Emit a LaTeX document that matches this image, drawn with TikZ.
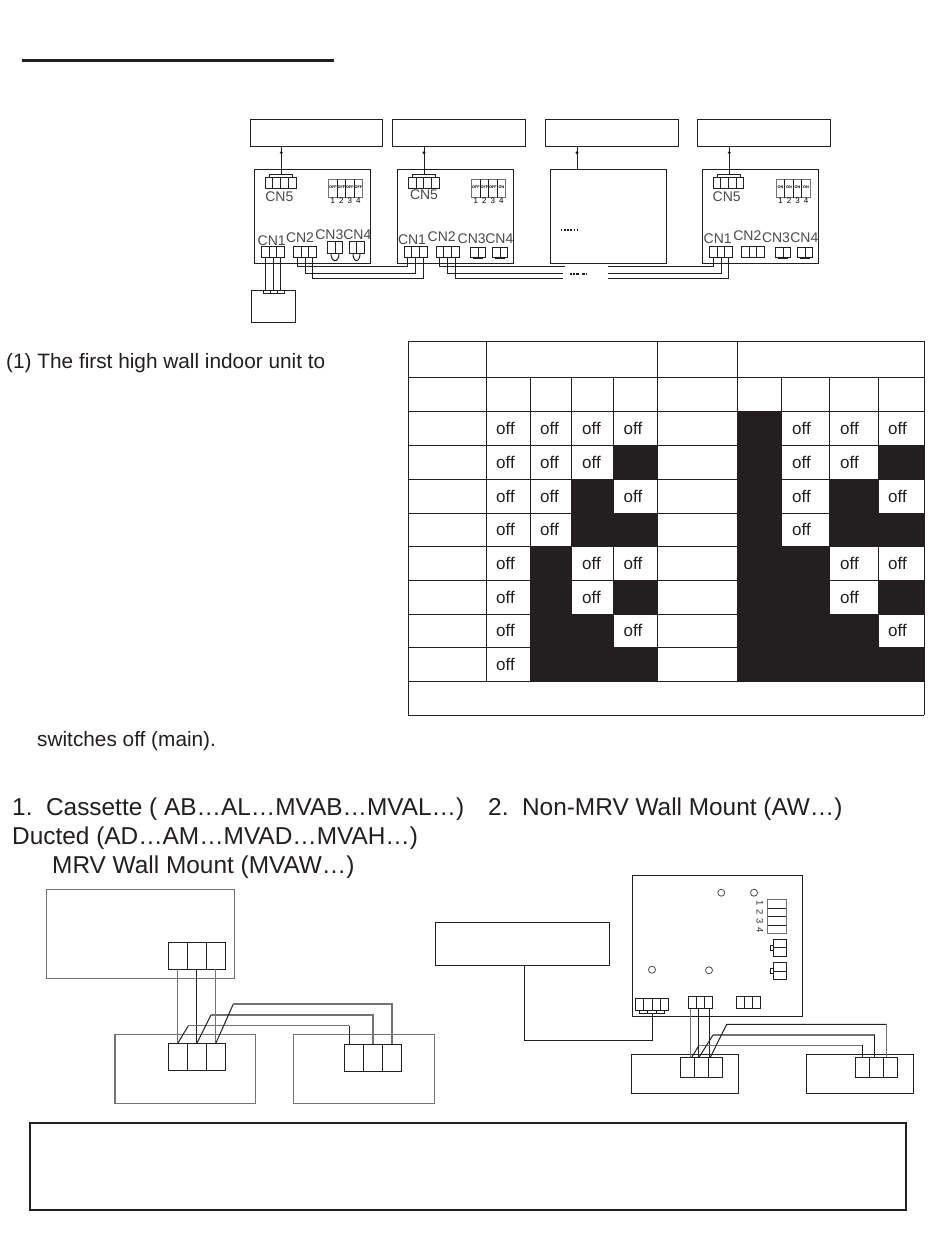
\documentclass[tikz,border=0pt]{standalone}
\usepackage{fontspec}
\setmainfont{Liberation Sans}
\definecolor{ink}{HTML}{231F20}
\tikzset{
  ln/.style={draw=ink,line width=1pt},
  gl/.style={draw=black!55,line width=1.3pt},
  wire/.style={ln},
  box/.style={ln,fill=white,inner sep=0pt,outer sep=0pt,anchor=north west},
  graybox/.style={gl,fill=white,inner sep=0pt,outer sep=0pt,anchor=north west},
  cnlabel/.style={inner sep=0pt,text=black!70,font=\fontsize{14}{14}\selectfont},
  swtext/.style={inner sep=0pt,font=\fontsize{3.8}{3.8}\selectfont\bfseries},
  swnum/.style={inner sep=0pt,font=\fontsize{8}{8}\selectfont},
  para/.style={inner sep=0pt,anchor=base west,text=ink,font=\fontsize{20.8}{20.8}\selectfont},
  head/.style={inner sep=0pt,anchor=base west,text=ink,font=\fontsize{24.4}{24.4}\selectfont},
  offcell/.style={inner sep=0pt,text=ink,font=\fontsize{17}{17}\selectfont},
}
% \bx[style]{name}{x1}{y1}{x2}{y2}
\newcommand{\bx}[6][box]{\node[#1,minimum width={(#5-#3)*1pt},minimum height={(#6-#4)*1pt}] (#2) at (#3,#4) {};}
% \conn[style]{name}{x1}{y1}{x2}{y2}{n}: divided connector, pins name-i-n and name-i-s
\newcommand{\conn}[7][box]{%
  \bx[#1]{#2}{#3}{#4}{#5}{#6}%
  \foreach \i in {1,...,#7}{%
    \pgfmathsetmacro{\xc}{#3+(#5-#3)*(\i-0.5)/#7}%
    \pgfmathsetmacro{\xd}{#3+(#5-#3)*\i/#7}%
    \coordinate (#2-\i-n) at (\xc,#4);%
    \coordinate (#2-\i-s) at (\xc,#6);%
    \ifnum\i<#7 \draw[ln] (\xd,#4) -- (\xd,#6);\fi
  }%
}
% DIP switch block at x, four tiny labels
\newcommand{\dip}[6]{%
  \conn[graybox]{#1}{#2}{179.3}{#2+34}{197.7}{4}%
  \node[swtext] (#1a) at (#1-1-n |- 0,187) {#3};
  \node[swtext] (#1b) at (#1-2-n |- 0,187) {#4};
  \node[swtext] (#1c) at (#1-3-n |- 0,187) {#5};
  \node[swtext] (#1d) at (#1-4-n |- 0,187) {#6};
  \node[swnum] (#1e) at (#1-1-n |- 0,200.7) {1};
  \node[swnum] (#1f) at (#1-2-n |- 0,200.7) {2};
  \node[swnum] (#1g) at (#1-3-n |- 0,200.7) {3};
  \node[swnum] (#1h) at (#1-4-n |- 0,200.7) {4};
}
% table cell: x1 y1 x2 y2 black? row xoffset
\newcommand{\tcell}[7]{%
  \ifnum#5=1 \fill[ink] (#1,#2) rectangle (#3,#4);%
  \else \pgfmathsetmacro{\xm}{(#1+#3)/2+#7}\pgfmathsetmacro{\ym}{(#2+#4)/2}%
    \node[offcell] (off#6-#1) at (\xm,\ym) {off};\fi}
\begin{document}
\begin{tikzpicture}[x=1pt,y=-1pt]
\useasboundingbox (0,0) rectangle (950,1246);
\fill[white] (0,0) rectangle (950,1246);
% title rule
\coordinate (ra) at (22,61); \coordinate (rb) at (334,61);
\draw[ink,line width=3pt] (ra) -- (rb);
% ---------- upper wiring
\bx{b1}{250}{119.3}{382.7}{146.7}
\bx{b2}{392.7}{119.3}{525.3}{146.7}
\bx{b3}{545.7}{119.3}{678.3}{146.7}
\bx{b4}{697.3}{119.3}{830.3}{146.7}
\bx{p1}{254.3}{169.3}{370.3}{263.7}
\bx{p2}{397.3}{169.3}{513.3}{263.7}
\bx{p3}{550.7}{169.3}{666.3}{263.7}
\bx{p4}{702.3}{169.3}{818.3}{263.7}
% CN5
\conn{p1f}{265}{177.3}{296}{188.7}{4}
\conn{p2f}{408.3}{177.3}{439.3}{188.7}{4}
\conn{p4f}{713}{177.3}{743.7}{188.7}{4}
\bx{p1s}{269}{175}{292.3}{177.3}
\bx{p2s}{412.3}{175}{435.6}{177.3}
\bx{p4s}{717}{175}{740.3}{177.3}
\node[cnlabel] (l1f) at (279.3,197) {CN5};
\node[cnlabel] (l2f) at (424,195) {CN5};
\node[cnlabel] (l4f) at (726.7,197) {CN5};
% box-to-board wires with small tick
\coordinate (t1) at (281.3,175); \coordinate (t1b) at (281.3,146.7);
\coordinate (t2) at (424,175); \coordinate (t2b) at (424,146.7);
\coordinate (t3) at (577,169.3); \coordinate (t3b) at (577,146.7);
\coordinate (t4) at (729.3,175); \coordinate (t4b) at (729.3,146.7);
\foreach \t in {t1,t2,t3,t4}{
  \draw[ln] (\t b) -- (\t);
  \fill[ink] ([yshift=-6pt]\t b) circle (1.6pt);
}
% DIP
\dip{d1}{328.7}{OFF}{OFF}{OFF}{OFF}
\dip{d2}{471.7}{OFF}{OFF}{OFF}{ON}
\dip{d4}{776.3}{ON}{ON}{ON}{ON}
% CN1 / CN2
\conn{a1}{261.3}{246.7}{284.7}{257.7}{3}
\conn{a2}{293.3}{246.7}{316.7}{257.7}{3}
\conn{c1}{404}{246.7}{427.3}{257.7}{3}
\conn{c2}{436}{246.7}{459.3}{257.7}{3}
\conn{e1}{709.3}{246.7}{732.7}{257.7}{3}
\conn{e2}{741.3}{246.7}{764.7}{257.7}{3}
% CN3 / CN4 with loop
\conn{a3}{327.3}{242}{342.7}{253.7}{2}
\conn{a4}{349}{242}{364.3}{253.7}{2}
\draw[ln] (331,253.7) arc[start angle=180,end angle=0,x radius=4,y radius=7];
\draw[ln] (353,253.7) arc[start angle=180,end angle=0,x radius=3.5,y radius=7];
\conn{c3}{470.3}{247.3}{485.7}{257.3}{2}
\conn{c4}{492.3}{247.3}{507.7}{257.3}{2}
\conn{e3}{775.3}{247.3}{790.7}{257.3}{2}
\conn{e4}{797.3}{247.3}{812.7}{257.3}{2}
\foreach \n in {c3,c4,e3,e4}{\draw[ink,line width=1.3pt] ([xshift=3pt,yshift=-1pt]\n.south west) -- ([xshift=-3pt,yshift=-1pt]\n.south east);}
\node[cnlabel] (l1a) at (271.7,240.7) {CN1};
\node[cnlabel] (l1b) at (300,238) {CN2};
\node[cnlabel] (l1c) at (329.3,234.3) {CN3};
\node[cnlabel] (l1d) at (357.3,234.3) {CN4};
\node[cnlabel] (l2a) at (412,240) {CN1};
\node[cnlabel] (l2b) at (441.7,236.7) {CN2};
\node[cnlabel] (l2c) at (471.7,238.3) {CN3};
\node[cnlabel] (l2d) at (499.3,238.3) {CN4};
\node[cnlabel] (l4a) at (717.7,238.3) {CN1};
\node[cnlabel] (l4b) at (747.3,236) {CN2};
\node[cnlabel] (l4c) at (776,238) {CN3};
\node[cnlabel] (l4d) at (804.3,237.3) {CN4};
% remote box
\bx{g}{251.7}{290.7}{295}{322.3}
\conn{gs}{263.3}{291}{284.3}{294}{3}
\draw[wire] (a1-1-s) -- (a1-1-s |- gs.north);
\draw[wire] (a1-2-s) -- (a1-2-s |- gs.north);
\draw[wire] (a1-3-s) -- (a1-3-s |- gs.north);
% bus
\coordinate (r1) at (0,267); \coordinate (r2) at (0,273.3); \coordinate (r3) at (0,278.3);
\draw[wire] (a2-1-s) -- (a2-1-s |- r1) -- (c1-1-s |- r1) -- (c1-1-s);
\draw[wire] (a2-2-s) -- (a2-2-s |- r2) -- (c1-2-s |- r2) -- (c1-2-s);
\draw[wire] (a2-3-s) -- (a2-3-s |- r3) -- (c1-3-s |- r3) -- (c1-3-s);
\coordinate (g1) at (565,0); \coordinate (g2) at (563,0);
\coordinate (h1) at (608.3,0);
\draw[wire] (c2-1-s) -- (c2-1-s |- r1) -- (g1 |- r1);
\draw[wire] (c2-2-s) -- (c2-2-s |- r2) -- (g2 |- r2);
\draw[wire] (c2-3-s) -- (c2-3-s |- r3) -- (g2 |- r3);
\draw[wire] (h1 |- r1) -- (e1-1-s |- r1) -- (e1-1-s);
\draw[wire] (h1 |- r2) -- (e1-2-s |- r2) -- (e1-2-s);
\draw[wire] (h1 |- r3) -- (e1-3-s |- r3) -- (e1-3-s);
% dots
\coordinate (da) at (570,274); \coordinate (db) at (587,274);
\draw[ink,line width=1.8pt,dash pattern=on 2pt off 1pt on 2pt off 1pt on 3pt off 3pt on 3pt off 1pt on 2pt] (da) -- (db);
\coordinate (dc) at (560.7,230); \coordinate (dd) at (579.3,230);
\draw[ink,line width=1.5pt,dash pattern=on 1.7pt off 1.5pt] (dc) -- (dd);
% ---------- text paragraphs
\node[para] (tp1) at (6,368) {(1) The first high wall indoor unit to};
\node[para] (tp2) at (37,746) {switches off (main).};
\node[head] (h1t) at (12,815) {1.\ \ Cassette ( AB…AL…MVAB…MVAL…)};
\node[head] (h2t) at (488,815) {2.\ \ Non-MRV Wall Mount (AW…)};
\node[head] (h3t) at (12,844) {Ducted (AD…AM…MVAD…MVAH…)};
\node[head] (h4t) at (52,873) {MRV Wall Mount (MVAW…)};
% ---------- table
\foreach \r/\yt/\yb/\b/\c/\d in {1/411/445/0/0/0,2/445/479/0/0/1,3/479/513/0/1/0,4/513/546/0/1/1,5/546/580/1/0/0,6/580/614/1/0/1,7/614/647/1/1/0,8/647/681/1/1/1}{
  \tcell{486}{\yt}{530}{\yb}{0}{\r}{-2.5}
  \tcell{530}{\yt}{571}{\yb}{\b}{\r}{-1}
  \tcell{571}{\yt}{613}{\yb}{\c}{\r}{-0.5}
  \tcell{613}{\yt}{657}{\yb}{\d}{\r}{-2}
  \tcell{737}{\yt}{781}{\yb}{1}{\r}{0}
  \tcell{781}{\yt}{829}{\yb}{\b}{\r}{-3.5}
  \tcell{829}{\yt}{878}{\yb}{\c}{\r}{-4}
  \tcell{878}{\yt}{924}{\yb}{\d}{\r}{-3.5}
}
\foreach \y in {341,377,411,445,479,513,546,580,614,647,681,715}{\draw[ink,line width=0.9pt] (408,\y) -- (924,\y);}
\foreach \x in {408,924}{\draw[ink,line width=0.9pt] (\x,341) -- (\x,715);}
\foreach \x in {486,657,737}{\draw[ink,line width=0.9pt] (\x,341) -- (\x,681);}
\foreach \x in {530,571,613,781,829,878}{\draw[ink,line width=0.9pt] (\x,377) -- (\x,681);}
% ---------- lower left diagram
\bx[graybox]{i1}{46.3}{889.3}{234.7}{978.7}
\conn{ic1}{168.3}{942.3}{225.3}{969.3}{3}
\bx[graybox]{i2}{115}{1034.3}{255.7}{1103.7}
\conn{ic2}{168.3}{1043.3}{225.3}{1070.3}{3}
\bx[graybox]{i3}{293.3}{1034.3}{434.3}{1103.7}
\conn{ic3}{344.3}{1044.3}{401.7}{1071.3}{3}
\draw[gl] (ic1-1-s) -- (ic2-1-n);
\draw[ln] (ic1-2-s) -- (ic2-2-n);
\draw[gl] (ic1-3-s) -- (ic2-3-n);
\coordinate (q1) at (349.3,1044.3);
\coordinate (qq) at (349.3,1025.7);
\draw[ln] (ic2-1-n) -- (188.3,1025.7);
\draw[gl] (188.3,1025.7) -- (qq);
\draw[ln] (qq) -- (q1);
\draw[ln] (ic2-2-n) -- (211,1015);
\draw[gl] (211,1015) -- (ic3-2-n |- 0,1015) -- (ic3-2-n);
\draw[ln] (ic2-3-n) -- (233.3,1004);
\draw[gl] (233.3,1004) -- (ic3-3-n |- 0,1004) -- (ic3-3-n);
% ---------- lower right diagram
\bx{j0}{435.3}{922.3}{609.3}{965.3}
\bx{jp}{632.3}{875.3}{802.7}{1016.7}
\foreach \n/\cx/\cy in {ca/721.3/892.7,cb/754/892.7,cc/652/969.7,cd/709/970.3}{
  \draw[draw=black!70,line width=0.8pt] (\cx,\cy) circle (3.5pt);
}
\foreach \t/\yy in {1/902.7,2/911.7,3/920.7,4/930}{
  \node[inner sep=0pt,rotate=-90,text=black!80,font=\fontsize{9.5}{9.5}\selectfont] (n\t) at (760,\yy) {\t};
}
\bx[graybox]{jsw}{767.7}{899.3}{786.3}{933.3}
\foreach \y in {908.3,916.7,925}{\draw[ln] (767.7,\y) -- (786.3,\y);}
\bx{jn1}{770.3}{945.3}{774}{950}
\bx{jk1}{773.7}{939.3}{786.3}{956.3}
\draw[ln] (773.7,947.7) -- (786.3,947.7);
\bx{jn2}{770.3}{968.7}{774}{973.7}
\bx{jk2}{773.7}{962.3}{786.3}{979.7}
\draw[ln] (773.7,971) -- (786.3,971);
\conn{ja}{635.7}{998.3}{668.7}{1010.3}{4}
\conn{jas}{639.3}{1010.3}{664.7}{1013.7}{3}
\conn{jb}{688.3}{996.3}{712.7}{1008.7}{3}
\conn{jc}{736.7}{996.3}{760.7}{1008.7}{3}
\bx{jl}{631.3}{1054.3}{738.7}{1093.3}
\conn{jlc}{680.7}{1057.3}{722.7}{1077.3}{3}
\bx{jr}{806.3}{1054.3}{913.7}{1093.3}
\conn{jrc}{855.3}{1057.3}{897.3}{1077.3}{3}
\coordinate (j0b) at (524.3,965.3);
\coordinate (jw) at (652.7,1040.3);
\draw[wire] (j0b) |- (jw) -- (jw |- jas.south);
\coordinate (w1) at (690.7,1008.7); \coordinate (w1b) at (690.7,1057.3);
\coordinate (w2) at (698.3,1008.7); \coordinate (w2b) at (698.3,1057.3);
\coordinate (w3) at (709.7,1008.7); \coordinate (w3b) at (709.7,1057.3);
\draw[gl] (w1) -- (w1b);
\draw[ln] (w2) -- (w2b);
\draw[ln] (w3) -- (w3b);
\coordinate (v1) at (862.3,1057.3); \coordinate (v2) at (874.7,1057.3); \coordinate (v3) at (886.3,1057.3);
\draw[ln] (691.7,1057.3) -- (699,1045.3);
\draw[gl] (699,1045.3) -- (862.3,1045.3);
\draw[ln] (862.3,1045.3) -- (v1);
\draw[ln] (699,1057.3) -- (713,1035);
\draw[gl] (713,1035) -- (874.7,1035);
\draw[ln] (874.7,1035) -- (v2);
\draw[ln] (710.3,1057.3) -- (726.7,1024.3) -- (886.3,1024.3);
\draw[gl] (886.3,1024.3) -- (v3);
% bottom frame
\node[draw=ink,line width=2.5pt,inner sep=0pt,outer sep=0pt,anchor=north west,minimum width=876pt,minimum height=87pt] (frame) at (30,1123) {};
\end{tikzpicture}
\end{document}
